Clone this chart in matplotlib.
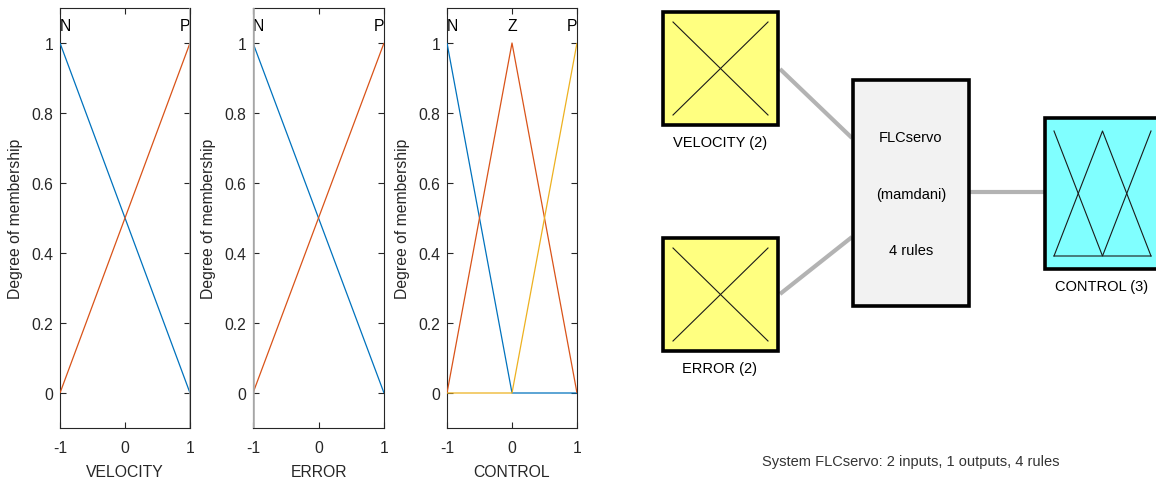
import matplotlib
matplotlib.use("Agg")
import matplotlib.pyplot as plt
from matplotlib.patches import Rectangle

plt.rcParams['font.family'] = ['Liberation Sans', 'DejaVu Sans']

# ---- membership function data ----
two_mf_x = [-1, 1]
velocity_names = ['N', 'P']
velocity_N = [1, 0]
velocity_P = [0, 1]
error_names = ['N', 'P']
error_N = [1, 0]
error_P = [0, 1]

three_mf_x = [-1, 0, 1]
control_names = ['N', 'Z', 'P']
control_N = [1, 0, 0]
control_Z = [0, 1, 0]
control_P = [0, 0, 1]

x_ticks = [-1, 0, 1]
y_ticks = [0, 0.2, 0.4, 0.6, 0.8, 1]
y_tick_labels = ['0', '0.2', '0.4', '0.6', '0.8', '1']

system_name = 'FLCservo'
method = 'mamdani'
n_rules = 4

COLORS = ['#0072BD', '#D95319', '#EDB120']
TXT = '#262626'
FS = 11.3
DFS = 10.5
W, H = 1156, 481

fig = plt.figure(figsize=(W / 100, H / 100), dpi=100)


def px_axes(left, right, top, bottom):
    return fig.add_axes([left / W, 1 - bottom / H, (right - left) / W, (bottom - top) / H])


def mf_plot(ax, x, curves, names, label, grey_edge=None):
    for i, y in enumerate(curves):
        ax.plot(x, y, color=COLORS[i], lw=0.9, solid_capstyle='butt', zorder=3)
    if grey_edge is not None:
        ax.axvline(grey_edge, color='#a6a6a6', lw=1.8, zorder=4)
    for i, (y, nm) in enumerate(zip(curves, names)):
        peak = x[y.index(max(y))]
        ha = 'left' if peak == x[0] else ('right' if peak == x[-1] else 'center')
        ax.text(peak, 1.049, nm, ha=ha, va='center', fontsize=FS, color='black')
    ax.set_xlim(-1, 1)
    ax.set_ylim(-0.1, 1.1)
    ax.set_xticks(x_ticks)
    ax.set_xticklabels([str(t) for t in x_ticks])
    ax.set_yticks(y_ticks)
    ax.set_yticklabels(y_tick_labels)
    ax.tick_params(direction='in', length=4.5, width=0.8, colors=TXT, labelsize=FS,
                   top=True, right=True)
    ax.tick_params(axis='x', pad=8.5)
    ax.tick_params(axis='y', pad=5)
    for s in ax.spines.values():
        s.set_color(TXT)
        s.set_linewidth(0.8)
    ax.set_ylabel('Degree of membership', fontsize=FS, color=TXT)
    ax.set_xlabel(label, fontsize=FS, color=TXT)
    ax.yaxis.set_label_coords(-0.285, 0.5)
    ax.xaxis.set_label_coords(0.5, -0.0857)


ax1 = px_axes(60, 190, 9, 429)
mf_plot(ax1, two_mf_x, [velocity_N, velocity_P], velocity_names, 'VELOCITY', grey_edge=1)
ax2 = px_axes(253, 384, 9, 429)
mf_plot(ax2, two_mf_x, [error_N, error_P], error_names, 'ERROR', grey_edge=-1)
ax3 = px_axes(447, 577, 9, 429)
mf_plot(ax3, three_mf_x, [control_N, control_Z, control_P], control_names, 'CONTROL')

# ---- system diagram (pixel coordinates) ----
dg = fig.add_axes([0, 0, 1, 1], zorder=-1)
dg.set_xlim(0, W)
dg.set_ylim(H, 0)
dg.axis('off')

GREY = '#b3b3b3'
dg.plot([780, 852], [70, 139], color=GREY, lw=3, solid_capstyle='butt', zorder=1)
dg.plot([780, 852], [295, 238], color=GREY, lw=3, solid_capstyle='butt', zorder=1)
dg.plot([970, 1044], [193, 193], color=GREY, lw=3, solid_capstyle='butt', zorder=1)


def box(x0, y0, x1, y1, fc):
    dg.add_patch(Rectangle((x0, y0), x1 - x0, y1 - y0, facecolor=fc, edgecolor='black',
                           lw=2.6, zorder=2, clip_on=False))


def icon(x, curves, x0, y0, x1, y1, color):
    for y in curves:
        px = [x0 + (v - x[0]) / (x[-1] - x[0]) * (x1 - x0) for v in x]
        py = [y1 - v * (y1 - y0) for v in y]
        dg.plot(px, py, color=color, lw=0.8, zorder=3)


box(663, 13, 778, 126, '#ffff80')
icon(two_mf_x, [velocity_N, velocity_P], 673, 23, 768, 116, '#1a1a1a')
dg.text(720, 143, 'VELOCITY (2)', ha='center', va='center', fontsize=DFS, color='black')

box(663, 239, 778, 352, '#ffff80')
icon(two_mf_x, [error_N, error_P], 673, 249, 768, 342, '#1a1a1a')
dg.text(720, 369, 'ERROR (2)', ha='center', va='center', fontsize=DFS, color='black')

box(853, 81, 969, 307, '#f2f2f2')
dg.text(911, 138, system_name, ha='center', va='center', fontsize=DFS, color='black')
dg.text(911, 195, f'({method})', ha='center', va='center', fontsize=DFS, color='black')
dg.text(911, 251, f'{n_rules} rules', ha='center', va='center', fontsize=DFS, color='black')

box(1045, 119, 1162, 270, '#80ffff')
icon(three_mf_x, [control_N, control_Z, control_P], 1054, 132, 1151, 257, '#1a1a1a')
dg.text(1102, 287, 'CONTROL (3)', ha='center', va='center', fontsize=DFS, color='black')

dg.text(911, 462, f'System {system_name}: 2 inputs, 1 outputs, {n_rules} rules',
        ha='center', va='center', fontsize=DFS, color='#333333')

fig.savefig('out.png', dpi=100, facecolor='white')
